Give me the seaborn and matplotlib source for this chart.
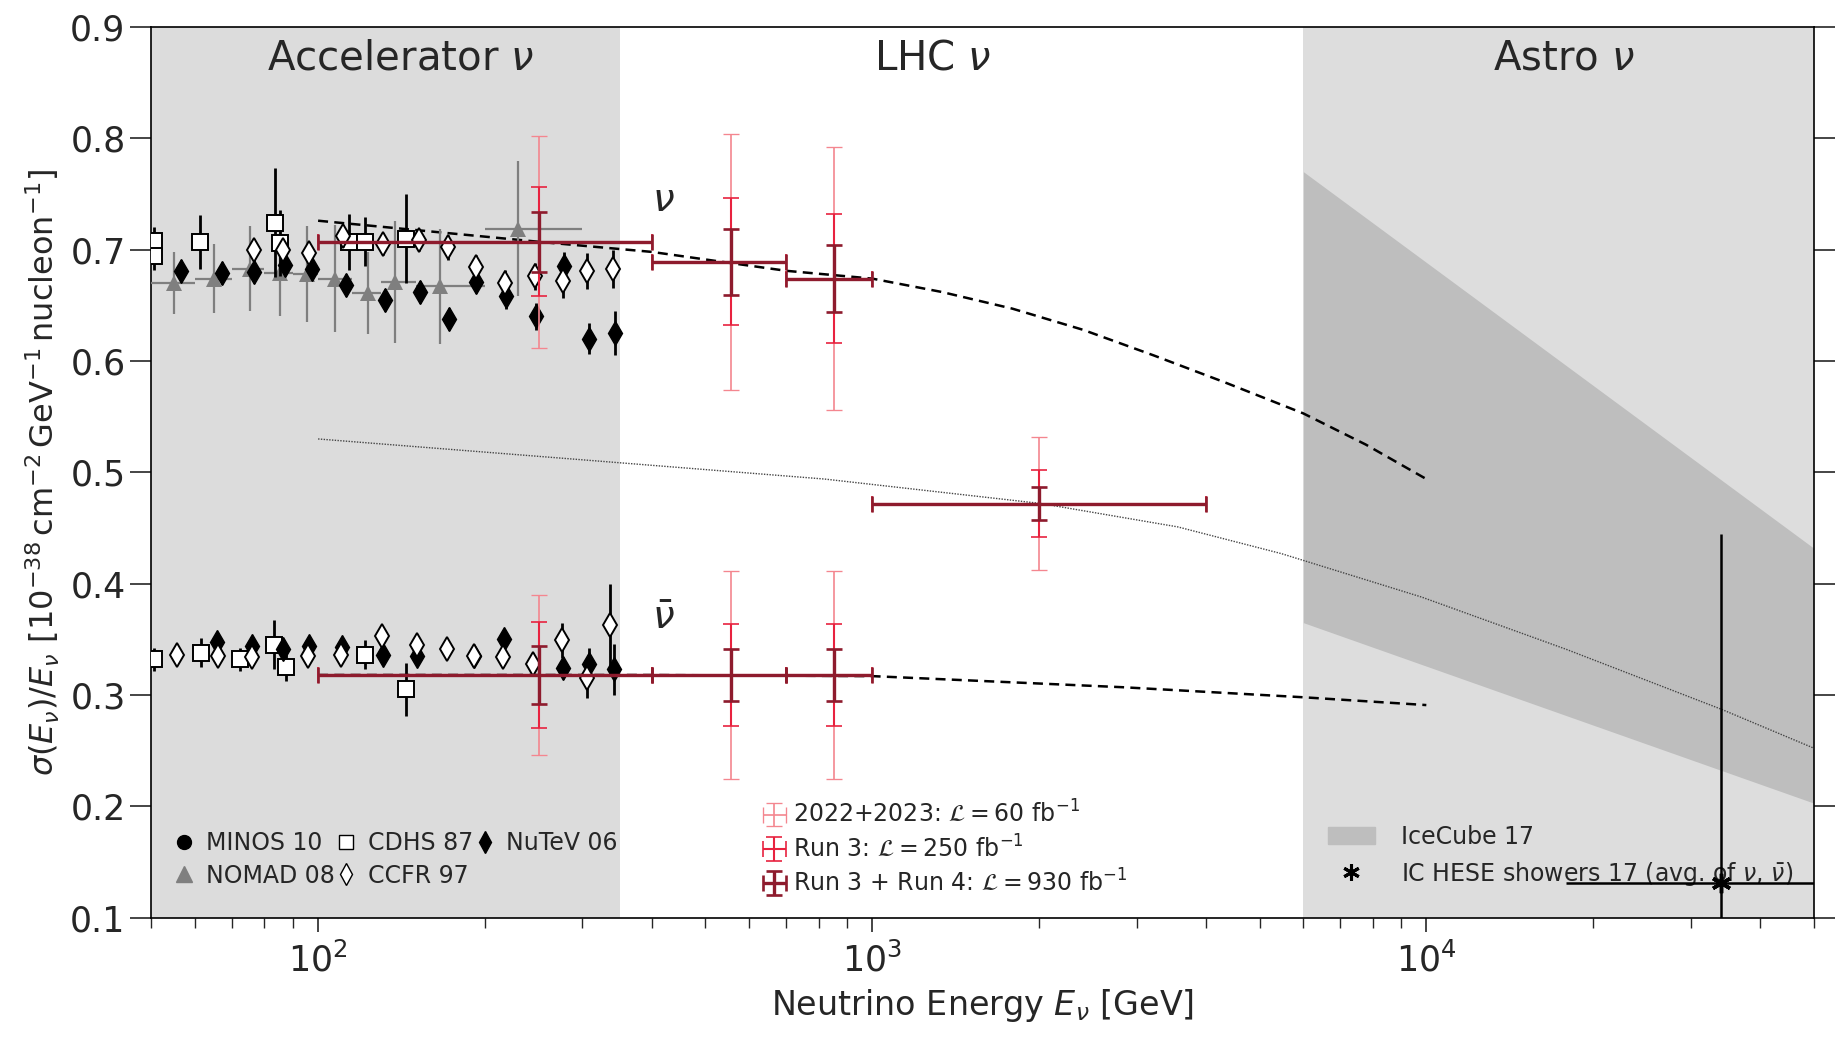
import matplotlib
matplotlib.use('Agg')
import matplotlib.pyplot as plt
from matplotlib.lines import Line2D
from matplotlib.patches import Patch
import matplotlib.transforms as mtransforms
import seaborn as sns
import numpy as np
import pandas as pd

# ---------------- data ----------------
accel_range = [50, 350]
astro_range = [6000, 50000]
x_range = [50, 50000]
y_range = [0.1, 0.9]

# CDHS 87 (open squares)
cdhs_nu_E = [50.5, 50.5, 61.3, 83.5, 85.5, 113.6, 121.7, 143.8]
cdhs_nu = [0.708, 0.694, 0.707, 0.724, 0.706, 0.707, 0.707, 0.710]
cdhs_nu_err = [0.012, 0.012, 0.024, 0.049, 0.03, 0.025, 0.022, 0.04]
cdhs_nubar_E = [50.5, 61.5, 72.2, 83.4, 87.5, 121.7, 143.8]
cdhs_nubar = [0.332, 0.338, 0.332, 0.345, 0.325, 0.336, 0.305]
cdhs_nubar_err = [0.01, 0.013, 0.01, 0.022, 0.012, 0.013, 0.024]

# CCFR 97 (open diamonds)
ccfr_nu_E = [76.5, 86.5, 96.4, 110.8, 130.9, 151.9, 171.5, 192.8, 217.3, 246, 276.8, 306.1, 341]
ccfr_nu = [0.700, 0.700, 0.697, 0.712, 0.705, 0.709, 0.702, 0.684, 0.670, 0.676, 0.672, 0.681, 0.683]
ccfr_nu_err = [0.01, 0.01, 0.01, 0.01, 0.01, 0.01, 0.011, 0.011, 0.012, 0.012, 0.015, 0.016, 0.017]
ccfr_nubar_E = [55.7, 65.9, 75.9, 96, 110.2, 130.6, 150.8, 171.1, 191.4, 216, 244.6, 275, 306.1, 336.8]
ccfr_nubar = [0.336, 0.335, 0.334, 0.335, 0.336, 0.353, 0.345, 0.341, 0.335, 0.334, 0.328, 0.349, 0.315, 0.363]
ccfr_nubar_err = [0.007, 0.007, 0.007, 0.007, 0.007, 0.008, 0.008, 0.008, 0.009, 0.009, 0.01, 0.016, 0.018, 0.037]

# NuTeV 06 (filled diamonds)
nutev_nu_E = [56.6, 67.1, 76.5, 87.3, 97.5, 112.3, 132.3, 152.6, 172, 192.8, 217.9, 246.9, 277.9, 308.1, 342.8]
nutev_nu = [0.681, 0.679, 0.680, 0.686, 0.683, 0.668, 0.655, 0.662, 0.638, 0.671, 0.658, 0.640, 0.685, 0.620, 0.625]
nutev_nu_err = [0.01, 0.01, 0.01, 0.01, 0.01, 0.01, 0.01, 0.01, 0.01, 0.01, 0.011, 0.012, 0.013, 0.014, 0.02]
nutev_nubar_E = [65.7, 75.9, 86.5, 96.2, 110.5, 130.9, 150.8, 191.4, 216.5, 276.9, 307.9, 342]
nutev_nubar = [0.348, 0.344, 0.341, 0.344, 0.343, 0.336, 0.335, 0.335, 0.350, 0.324, 0.328, 0.323]
nutev_nubar_err = [0.006, 0.006, 0.006, 0.006, 0.006, 0.006, 0.007, 0.007, 0.008, 0.01, 0.014, 0.023]

# NOMAD 08 (grey triangles, binned)
nomad_E = [54.9, 65, 75.5, 85.2, 95.5, 107.5, 122.9, 137.9, 166.3, 229.5]
nomad_lo = [50, 60, 70, 80, 90, 100, 115, 130, 150, 200]
nomad_hi = [60, 70, 80, 90, 100, 115, 130, 150, 200, 300]
nomad_nu = [0.670, 0.674, 0.683, 0.679, 0.678, 0.674, 0.661, 0.671, 0.667, 0.719]
nomad_err = [0.028, 0.031, 0.038, 0.039, 0.043, 0.048, 0.037, 0.055, 0.052, 0.061]

# MINOS 10: below the plotted energy range
minos_E = []
minos_nu = []

# LHC projections
lhc_lo = [100, 400, 700, 1000]
lhc_hi = [400, 700, 1000, 4000]
lhc_E = [250, 555, 853, 2000]
lhc_nu = [0.707, 0.689, 0.674, 0.472]
lhc_nu_err_60 = [0.095, 0.115, 0.118, 0.06]
lhc_nu_err_250 = [0.049, 0.057, 0.058, 0.030]
lhc_nu_err_930 = [0.027, 0.030, 0.030, 0.015]
lhcbar_lo = [100, 400, 700]
lhcbar_hi = [400, 700, 1000]
lhcbar_E = [250, 555, 853]
lhc_nubar = [0.318, 0.318, 0.318]
lhc_nubar_err_60 = [0.072, 0.093, 0.093]
lhc_nubar_err_250 = [0.048, 0.046, 0.046]
lhc_nubar_err_930 = [0.026, 0.023, 0.023]

# theory curves
sm_nu_E = [100, 251, 400, 555, 700, 1000, 1335, 1791, 2402, 3222, 4320, 5994, 7772, 10000]
sm_nu = [0.726, 0.707, 0.698, 0.688, 0.681, 0.674, 0.662, 0.647, 0.628, 0.605, 0.581, 0.553, 0.525, 0.494]
sm_nubar_E = [100, 400, 1000, 2840, 6000, 10000]
sm_nubar = [0.318, 0.318, 0.317, 0.307, 0.298, 0.291]
avg_E = [100, 323, 820, 2018, 3561, 5477, 9806, 17900, 34170, 50200]
avg_xs = [0.530, 0.510, 0.494, 0.472, 0.451, 0.427, 0.388, 0.341, 0.287, 0.252]

# IceCube 17 band and IC HESE showers
icecube_E = [6000, 50000]
icecube_lo = [0.365, 0.203]
icecube_hi = [0.77, 0.432]
hese_E = [34000]
hese_val = [0.131]
hese_E_lo = [17900]
hese_E_hi = [100000]
hese_val_lo = [0.0]
hese_val_hi = [0.445]

# ---------------- plotting ----------------
sns.set_theme(style='ticks')
plt.rcParams['font.family'] = ['DejaVu Sans']
plt.rcParams['mathtext.fontset'] = 'dejavusans'

fig = plt.figure(figsize=(18.45, 10.37), dpi=100)
ax = fig.add_axes([0.082, 0.115, 0.901, 0.859])
ax.set_xscale('log')

ax.axvspan(*accel_range, color='#dcdcdc', lw=0, zorder=0)
ax.axvspan(*astro_range, color='#dddddd', lw=0, zorder=0)
ax.fill_between(icecube_E, icecube_lo, icecube_hi, color='#bebebe', lw=0, zorder=0.5)

curves = pd.DataFrame({'E': sm_nu_E, 'xs': sm_nu})
sns.lineplot(data=curves, x='E', y='xs', ax=ax, color='black', lw=1.8,
             linestyle=(0, (4, 2.5)), zorder=3)
curves = pd.DataFrame({'E': sm_nubar_E, 'xs': sm_nubar})
sns.lineplot(data=curves, x='E', y='xs', ax=ax, color='black', lw=1.8,
             linestyle=(0, (4, 2.5)), zorder=3)
curves = pd.DataFrame({'E': avg_E, 'xs': avg_xs})
sns.lineplot(data=curves, x='E', y='xs', ax=ax, color='#444444', lw=1.0,
             linestyle=(0, (1, 1)), zorder=3)

# accelerator data
nomad_xerr = [np.array(nomad_E) - np.array(nomad_lo), np.array(nomad_hi) - np.array(nomad_E)]
ax.errorbar(nomad_E, nomad_nu, xerr=nomad_xerr, yerr=nomad_err, fmt='^', color='#7f7f7f',
            ms=12, elinewidth=1.6, mew=0, zorder=4)
for E, v, e in [(cdhs_nu_E, cdhs_nu, cdhs_nu_err), (cdhs_nubar_E, cdhs_nubar, cdhs_nubar_err)]:
    ax.errorbar(E, v, yerr=e, fmt='s', mfc='white', mec='black', ecolor='black',
                ms=12, mew=1.4, elinewidth=2, zorder=5)
for E, v, e in [(nutev_nu_E, nutev_nu, nutev_nu_err), (nutev_nubar_E, nutev_nubar, nutev_nubar_err)]:
    ax.errorbar(E, v, yerr=e, fmt='d', color='black', ms=12, elinewidth=2, zorder=5)
for E, v, e in [(ccfr_nu_E, ccfr_nu, ccfr_nu_err), (ccfr_nubar_E, ccfr_nubar, ccfr_nubar_err)]:
    ax.errorbar(E, v, yerr=e, fmt='d', mfc='white', mec='black', ecolor='black',
                ms=12, mew=1.4, elinewidth=2, zorder=6)
ax.plot(minos_E, minos_nu, 'o', color='black')

# LHC projections
lum_styles = [
    (lhc_nu_err_60, lhc_nubar_err_60, '#f4868f', 1.2, r'2022+2023: $\mathcal{L} = 60\ \mathrm{fb}^{-1}$'),
    (lhc_nu_err_250, lhc_nubar_err_250, '#e8223f', 1.5, r'Run 3: $\mathcal{L} = 250\ \mathrm{fb}^{-1}$'),
    (lhc_nu_err_930, lhc_nubar_err_930, '#8e1b2d', 2.4, r'Run 3 + Run 4: $\mathcal{L} = 930\ \mathrm{fb}^{-1}$'),
]
xerr_nu = [np.array(lhc_E) - np.array(lhc_lo), np.array(lhc_hi) - np.array(lhc_E)]
xerr_nubar = [np.array(lhcbar_E) - np.array(lhcbar_lo), np.array(lhcbar_hi) - np.array(lhcbar_E)]
lhc_handles = []
for i, (err_nu, err_nubar, col, lw, lab) in enumerate(lum_styles):
    h = ax.errorbar(lhc_E, lhc_nu, xerr=xerr_nu, yerr=err_nu, fmt='none', ecolor=col,
                    elinewidth=lw, capsize=6, capthick=lw * 0.8, zorder=7 + i, label=lab)
    ax.errorbar(lhcbar_E, lhc_nubar, xerr=xerr_nubar, yerr=err_nubar, fmt='none', ecolor=col,
                elinewidth=lw, capsize=6, capthick=lw * 0.8, zorder=7 + i)
    lhc_handles.append(h)

# IceCube HESE
hese_xerr = [np.array(hese_E) - np.array(hese_E_lo), np.array(hese_E_hi) - np.array(hese_E)]
hese_yerr = [np.array(hese_val) - np.array(hese_val_lo), np.array(hese_val_hi) - np.array(hese_val)]
ax.errorbar(hese_E, hese_val, xerr=hese_xerr, yerr=hese_yerr, fmt='none', ecolor='black',
            elinewidth=1.8, zorder=8)
ax.plot(hese_E, hese_val, marker=(6, 2, 0), color='black', ms=14, mew=2.5, ls='none', zorder=9)

ax.set_xlim(*x_range)
ax.set_ylim(*y_range)
ax.set_yticks(np.arange(0.1, 0.91, 0.1))
ax.set_yticklabels([f'{t:.1f}' for t in np.arange(0.1, 0.91, 0.1)])

# region labels
trans = mtransforms.blended_transform_factory(ax.transData, ax.transAxes)
ax.text(141, 0.965, r'Accelerator $\nu$', transform=trans, ha='center', va='center', fontsize=29)
ax.text(1285, 0.965, r'LHC $\nu$', transform=trans, ha='center', va='center', fontsize=29)
ax.text(17700, 0.965, r'Astro $\nu$', transform=trans, ha='center', va='center', fontsize=29)
ax.text(420, 0.745, r'$\nu$', ha='center', va='center', fontsize=28)
ax.text(420, 0.369, r'$\bar{\nu}$', ha='center', va='center', fontsize=28)

ax.set_xlabel(r'Neutrino Energy $E_\nu$ [GeV]', fontsize=24, labelpad=6)
ax.set_ylabel(r'$\sigma(E_\nu)/E_\nu\ [10^{-38}\,\mathrm{cm}^{-2}\,\mathrm{GeV}^{-1}\,\mathrm{nucleon}^{-1}]$',
              fontsize=23, labelpad=6)
ax.tick_params(axis='both', which='major', labelsize=25, direction='out', width=1.2)
ax.tick_params(axis='x', which='major', length=10, pad=8)
ax.tick_params(axis='x', which='minor', length=7, width=1)
ax.tick_params(axis='y', which='major', length=15, right=True)
for s in ax.spines.values():
    s.set_linewidth(1.2)
    s.set_color('black')

# legends
exp_handles = [
    Line2D([], [], marker='o', color='black', ls='none', ms=10, label='MINOS 10'),
    Line2D([], [], marker='^', color='#7f7f7f', ls='none', ms=11, label='NOMAD 08'),
    Line2D([], [], marker='s', mfc='white', mec='black', ls='none', ms=10, label='CDHS 87'),
    Line2D([], [], marker='d', mfc='white', mec='black', ls='none', ms=11, label='CCFR 97'),
    Line2D([], [], marker='d', color='black', ls='none', ms=11, label='NuTeV 06'),
]
leg1 = ax.legend(handles=exp_handles, ncol=3, loc='lower left', bbox_to_anchor=(0.0, 0.01),
                 frameon=False, fontsize=17, handlelength=1.0, handletextpad=0.4,
                 columnspacing=0.0, labelspacing=0.35)
ax.add_artist(leg1)

leg2 = ax.legend(handles=lhc_handles, loc='lower left', bbox_to_anchor=(0.355, 0.0),
                 frameon=False, fontsize=17, handlelength=1.0, handletextpad=0.3,
                 labelspacing=0.3)
ax.add_artist(leg2)

ic_handles = [
    Patch(color='#bebebe', label='IceCube 17'),
    Line2D([], [], marker=(6, 2, 0), color='black', ls='none', ms=12, mew=2.2,
           label=r'IC HESE showers 17 (avg. of $\nu$, $\bar{\nu}$)'),
]
ax.legend(handles=ic_handles, loc='lower left', bbox_to_anchor=(0.695, 0.01),
          frameon=False, fontsize=17, handlelength=2.0, handletextpad=1.1, labelspacing=0.45)

fig.savefig('out.png', dpi=100)
